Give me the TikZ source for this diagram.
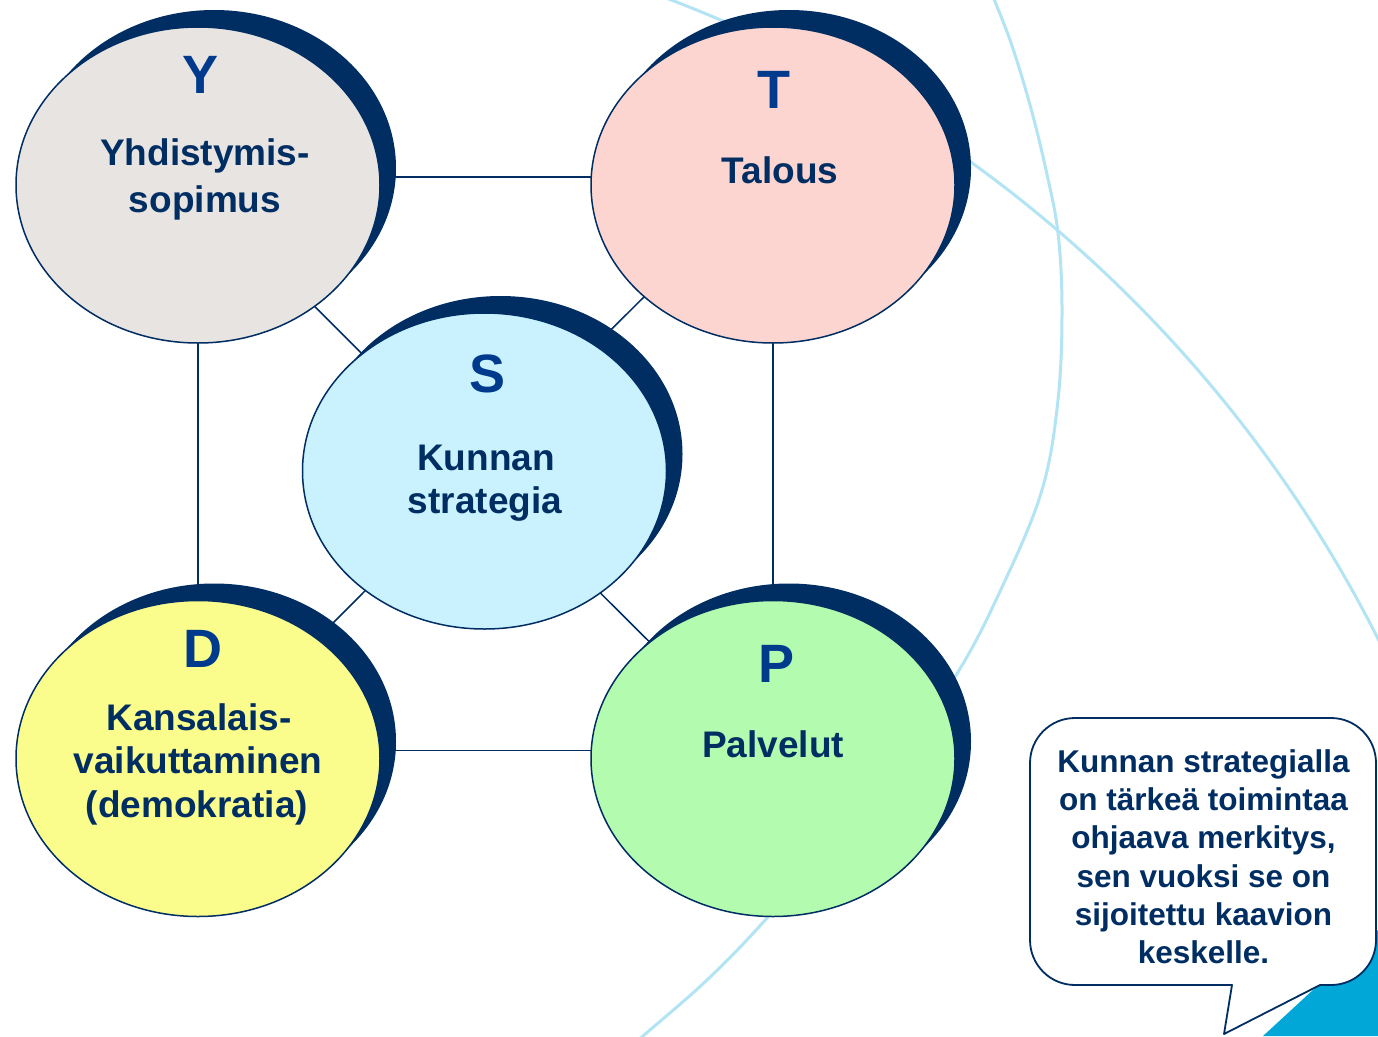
\documentclass[tikz,border=0pt]{standalone}
\usepackage{fontspec}
\setmainfont{Liberation Sans}
\usetikzlibrary{shapes.geometric,shadows,backgrounds}
\definecolor{navy}{HTML}{002E63}
\definecolor{lettblue}{HTML}{003A8C}
\definecolor{arcblue}{HTML}{B3E4F3}
\definecolor{tricyan}{HTML}{00A7D7}
\definecolor{fillY}{HTML}{E8E4E1}
\definecolor{fillT}{HTML}{FCD5D1}
\definecolor{fillS}{HTML}{C9F2FE}
\definecolor{fillD}{HTML}{FAFD8C}
\definecolor{fillP}{HTML}{B3FBAE}
\begin{document}
\begin{tikzpicture}[x=1pt,y=-1pt,
  topic/.style={ellipse, draw=navy, line width=1.5pt, minimum width=364pt,
    minimum height=316pt, inner sep=0pt,
    drop shadow={shadow xshift=16pt, shadow yshift=17pt, fill=navy, opacity=1}},
  conn/.style={draw=navy, line width=1.5pt},
  arcline/.style={draw=arcblue, line width=3pt},
  letter/.style={text=lettblue, font=\fontsize{54}{54}\selectfont\bfseries,
    inner sep=0pt, anchor=base},
  lbl/.style={text=navy, font=\fontsize{37}{44}\selectfont\bfseries,
    inner sep=0pt, anchor=base},
  btext/.style={text=navy, font=\fontsize{31.5}{38}\selectfont\bfseries,
    inner sep=0pt, anchor=base},
  bubble/.style={draw=navy, fill=white, line width=1.8pt, line join=round}]
\useasboundingbox (0,0) rectangle (1378,1036);
\begin{pgfonlayer}{background}
  \fill[white] (0,0) rectangle (1378,1036);
\end{pgfonlayer}
% background arcs
\begin{scope}
  \clip (0,0) rectangle (1378,1036);
  \draw[arcline] (199,1233) circle [radius=1320];
  \draw[arcline] plot[smooth, tension=0.6] coordinates {(988,-15) (1010,40) (1030,105) (1046,170)
    (1058,233) (1062,310) (1058,400) (1042,490) (1003,585) (955,677) (870,800) (768,917)
    (707,980) (643,1036) (628,1050)};
\end{scope}
% ellipses
\node[topic, fill=fillY] (Y) at (198,185) {};
\node[topic, fill=fillT] (T) at (773,185) {};
\node[topic, fill=fillS] (S) at (484.5,471) {};
\node[topic, fill=fillD] (D) at (198,758.5) {};
\node[topic, fill=fillP] (P) at (773,758.5) {};
% connectors behind the ellipses
\begin{pgfonlayer}{background}
  \draw[conn] ([shift={(0,-8)}]Y.center) -- ([shift={(0,-8)}]T.center);
  \draw[conn] ([shift={(0,-8)}]D.center) -- ([shift={(0,-8)}]P.center);
  \draw[conn] (Y.center) -- (D.center);
  \draw[conn] (T.center) -- (P.center);
  \draw[conn] ([shift={(0,5)}]Y.center) -- ([shift={(0,5)}]S.center);
  \draw[conn] ([shift={(-8,-8)}]T.center) -- ([shift={(-8,-8)}]S.center);
  \draw[conn] (S.center) -- (D.center);
  \draw[conn] ([shift={(0,6.5)}]S.center) -- ([shift={(0,6.5)}]P.center);
\end{pgfonlayer}
% texts
\node[letter] (yl) at (201,93) {Y};
\node[lbl] (y1) at (205,165) {Yhdistymis-};
\node[lbl] (y2) at (205,212) {sopimus};
\node[letter] (tl) at (774,108) {T};
\node[lbl] (t1) at (780,183) {Talous};
\node[letter] (sl) at (488,392) {S};
\node[lbl] (s1) at (486,470) {Kunnan};
\node[lbl] (s2) at (485,513) {strategia};
\node[letter] (dl) at (203,667) {D};
\node[lbl] (d1) at (199,730) {Kansalais-};
\node[lbl] (d2) at (198,773) {vaikuttaminen};
\node[lbl] (d3) at (197,817) {(demokratia)};
\node[letter] (pl) at (776,682) {P};
\node[lbl] (p1) at (773,757) {Palvelut};
% corner triangle
\fill[tricyan] (1378,930) -- (1378,1036) -- (1263,1036) -- cycle;
% speech bubble
\draw[bubble] (1232,985) -- (1075,985) arc[start angle=90,end angle=180,radius=45]
  -- (1030,763) arc[start angle=180,end angle=270,radius=45]
  -- (1331,718) arc[start angle=270,end angle=360,radius=45]
  -- (1376,940) arc[start angle=0,end angle=90,radius=45]
  -- (1320,985) -- (1224,1034) -- cycle;
\node[btext] (b1) at (1203.5,772) {Kunnan strategialla};
\node[btext] (b2) at (1203.5,810) {on tärkeä toimintaa};
\node[btext] (b3) at (1203.5,848) {ohjaava merkitys,};
\node[btext] (b4) at (1203.5,887) {sen vuoksi se on};
\node[btext] (b5) at (1203.5,925) {sijoitettu kaavion};
\node[btext] (b6) at (1203.5,963) {keskelle.};
\end{tikzpicture}
\end{document}
